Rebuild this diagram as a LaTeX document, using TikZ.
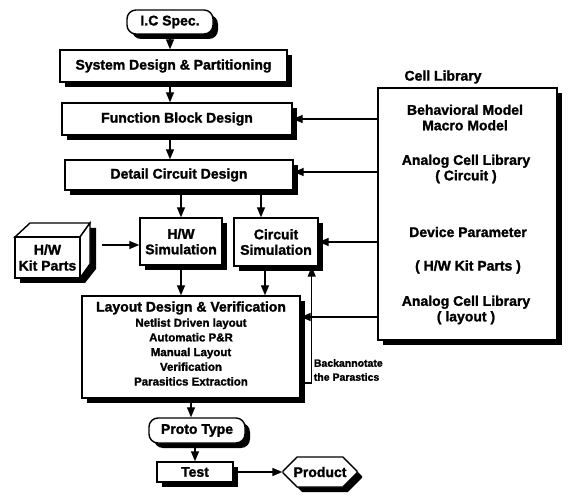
\documentclass[tikz,border=0pt]{standalone}
\usepackage{fontspec}
\setmainfont{Liberation Sans}[BoldFeatures={FakeBold=1.5}]
\usetikzlibrary{arrows.meta,shadows,calc,shapes.misc}
\begin{document}
\begin{tikzpicture}[x=1pt,y=-1pt,
  box/.style={draw,line width=1.4pt,fill=white,inner sep=0pt,align=center,
    font=\fontsize{14}{15.5}\selectfont\bfseries,
    drop shadow={shadow xshift=5pt,shadow yshift=-5pt,fill=black,opacity=1}},
  rbox/.style={box,rounded corners=9pt},
  cbox/.style={box,chamfered rectangle,chamfered rectangle corners=all,chamfered rectangle xsep=9pt,chamfered rectangle ysep=9pt},
  arr/.style={-{Triangle[length=10pt,width=8pt]},line width=1.4pt},
  ln/.style={line width=1.4pt},
  lib/.style={font=\fontsize{14}{15.5}\selectfont\bfseries,inner sep=0pt,align=center},
  sub/.style={font=\fontsize{11.5}{14.7}\selectfont\bfseries,inner sep=0pt,align=center},
  small/.style={font=\fontsize{10.5}{14}\selectfont\bfseries,inner sep=0pt,align=left}]
\useasboundingbox (0,0) rectangle (571,497);
\fill[white] (0,0) rectangle (571,497);

% main column
\node[rbox,minimum width=86pt,minimum height=24pt] (spec) at (170,22) {I.C Spec.};
\node[box,minimum width=227pt,minimum height=32pt] (sys) at (173.5,66) {System Design \& Partitioning};
\node[box,minimum width=230pt,minimum height=32pt] (fbd) at (177,119) {Function Block Design};
\node[box,minimum width=228pt,minimum height=30pt] (dcd) at (179,175) {Detail Circuit Design};
\node[box,minimum width=82pt,minimum height=47pt] (hws) at (181,241.5) {H/W\\Simulation};
\node[box,minimum width=84pt,minimum height=48pt] (cs) at (276,242) {Circuit\\Simulation};
\node[box,minimum width=218pt,minimum height=102pt] (lay) at (191,347) {};
\node[lib] (layt) at (191,308) {Layout Design \& Verification};
\node[sub] (lays) at (191,352) {Netlist Driven layout\\Automatic P\&R\\Manual Layout\\Verification\\Parasitics Extraction};
\node[rbox,minimum width=96pt,minimum height=25pt] (proto) at (197,430.5) {Proto Type};
\node[box,minimum width=76pt,minimum height=20pt] (test) at (195,472) {Test};
\node[cbox,minimum width=74pt,minimum height=30pt] (prod) at (320,472) {Product};

% H/W kit parts 3D box
\fill[black] (20,242) -- (35,228) -- (96,228) -- (96,269) -- (85,283) -- (20,283) -- cycle;
\draw[ln,fill=white] (15,237) -- (30,223) -- (90,223) -- (80,237) -- cycle;
\draw[ln,fill=white] (80,237) -- (90,223) -- (90,264) -- (80,278) -- cycle;
\node[draw,line width=1.4pt,fill=white,minimum width=65pt,minimum height=41pt,inner sep=0pt,align=center,
  font=\fontsize{14}{16}\selectfont\bfseries] (kit) at (47.5,257.5) {H/W\\Kit Parts};
\coordinate (kitout) at (102,245);
\draw[arr] (kitout) -- (kitout -| hws.west);

% cell library
\node[box,minimum width=179pt,minimum height=252pt] (libbox) at (467.5,214) {};
\node[lib] (libt) at (443,77) {Cell Library};
\node[lib] (l1) at (465,117.5) {Behavioral Model\\Macro Model};
\node[lib] (l2) at (466,169) {Analog Cell Library\\( Circuit )};
\node[lib] (l3) at (468,232) {Device Parameter};
\node[lib] (l4) at (468,267) {( H/W Kit Parts )};
\node[lib] (l5) at (466,310) {Analog Cell Library\\( layout )};

% vertical flow
\draw[arr] (spec.south) -- (spec.south |- sys.north);
\draw[arr] (spec.south |- sys.south) -- (spec.south |- fbd.north);
\draw[arr] (spec.south |- fbd.south) -- (spec.south |- dcd.north);
\draw[arr] (hws.north |- dcd.south) -- (hws.north);
\coordinate (csin) at ($(cs.north)+(-15,0)$);
\draw[arr] (csin |- dcd.south) -- (csin);
\draw[arr] (hws.south) -- (hws.south |- lay.north);
\coordinate (csout) at ($(cs.south)+(-11,0)$);
\draw[arr] (csout) -- (csout |- lay.north);
\draw[arr] (lay.south) -- (lay.south |- proto.north);
\draw[arr] (test.north |- proto.south) -- (test.north);
\draw[arr] (test.east) -- (prod.west);

% from cell library
\draw[arr] (libbox.west |- fbd.east) -- (fbd.east);
\coordinate (dcdin) at ($(dcd.east)+(0,-3)$);
\draw[arr] (libbox.west |- dcdin) -- (dcdin);
\draw[arr] (libbox.west |- cs.east) -- (cs.east);
\coordinate (layin) at ($(lay.east)+(0,-30)$);
\draw[arr] (libbox.west |- layin) -- (layin);

% back annotation
\coordinate (fbA) at ($(lay.east)+(0,36)$);
\coordinate (fbB) at ($(fbA)+(11,0)$);
\draw[arr] (fbA) -- (fbB) -- (fbB |- cs.south);
\node[small,anchor=west] (ba) at ($(fbB)+(2,-13)$) {Backannotate\\the Parastics};
\end{tikzpicture}
\end{document}
